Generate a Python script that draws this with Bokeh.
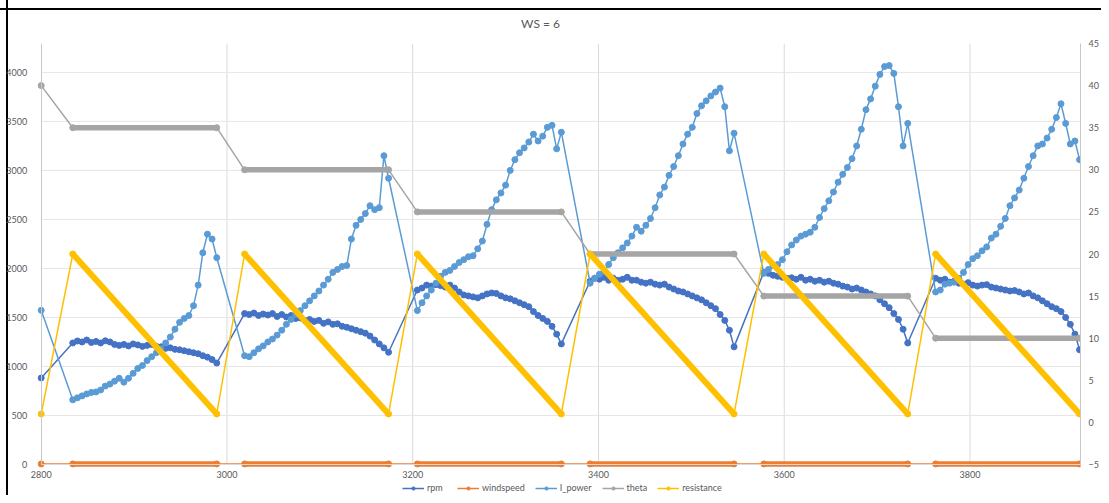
from bokeh.plotting import figure
from bokeh.models import Range1d, LinearAxis, FixedTicker, Legend, LegendItem
from bokeh.embed import file_html
from bokeh.resources import INLINE

# ---------------- data ----------------
TITLE = "WS = 6"
SERIES = ["rpm", "windspeed", "I_power", "theta", "resistance"]
COLORS = ["#4472C4", "#ED7D31", "#5B9BD5", "#A5A5A5", "#FFC000"]

x_first = 2800
seg_start = [2834, 3019, 3205, 3391, 3578, 3763]
STEP = 5

rpm_first = 883
rpm_segments = [
    [1240, 1260, 1250, 1270, 1245, 1255, 1240, 1262, 1250, 1225, 1215, 1225, 1210, 1230, 1220, 1205,
     1215, 1225, 1205, 1200, 1185, 1190, 1175, 1170, 1160, 1150, 1140, 1130, 1110, 1095, 1070, 1035],
    [1540, 1530, 1545, 1520, 1535, 1525, 1540, 1510, 1530, 1505, 1520, 1490, 1495, 1470, 1480, 1460,
     1470, 1440, 1455, 1430, 1435, 1410, 1400, 1385, 1370, 1355, 1340, 1310, 1270, 1230, 1190, 1145],
    [1780, 1800, 1830, 1820, 1835, 1825, 1810, 1830, 1800, 1760, 1730, 1720, 1710, 1700, 1720, 1740,
     1750, 1745, 1720, 1700, 1690, 1670, 1650, 1630, 1610, 1560, 1520, 1490, 1460, 1410, 1330, 1230],
    [1870, 1900, 1890, 1910, 1880, 1900, 1880, 1890, 1910, 1880, 1880, 1860, 1850, 1860, 1840, 1830,
     1840, 1810, 1790, 1770, 1760, 1740, 1720, 1700, 1680, 1650, 1620, 1590, 1530, 1470, 1370, 1200],
    [1960, 1950, 1930, 1920, 1910, 1900, 1905, 1890, 1910, 1880, 1890, 1870, 1880, 1860, 1870, 1850,
     1840, 1820, 1810, 1790, 1800, 1780, 1760, 1740, 1720, 1680, 1640, 1600, 1540, 1480, 1380, 1240],
    [1900, 1880, 1890, 1860, 1870, 1850, 1840, 1855, 1830, 1820, 1830, 1835, 1810, 1800, 1790, 1780,
     1770, 1775, 1760, 1740, 1750, 1720, 1700, 1670, 1640, 1610, 1590, 1560, 1500, 1430, 1330, 1170],
]

ipower_first = 1573
ipower_segments = [
    [660, 680, 700, 720, 735, 740, 760, 800, 820, 850, 880, 840, 880, 930, 980, 1010,
     1060, 1100, 1140, 1180, 1240, 1300, 1380, 1450, 1490, 1520, 1620, 1830, 2160, 2350, 2300, 2110],
    [1110, 1100, 1140, 1180, 1210, 1250, 1280, 1320, 1370, 1430, 1480, 1530, 1570, 1620, 1670, 1720,
     1770, 1830, 1890, 1960, 1990, 2020, 2030, 2300, 2440, 2500, 2560, 2640, 2600, 2620, 3150, 2920],
    [1570, 1650, 1720, 1780, 1850, 1920, 1960, 1980, 2020, 2060, 2090, 2120, 2130, 2200, 2280, 2450,
     2600, 2700, 2770, 2850, 3000, 3110, 3180, 3230, 3290, 3370, 3300, 3350, 3440, 3460, 3220, 3390],
    [1850, 1900, 1940, 1970, 2040, 2110, 2160, 2210, 2260, 2330, 2420, 2380, 2440, 2510, 2620, 2750,
     2830, 2950, 3040, 3150, 3270, 3370, 3440, 3580, 3660, 3710, 3760, 3800, 3840, 3650, 3200, 3380],
    [1950, 1990, 2030, 2040, 2090, 2170, 2240, 2290, 2330, 2350, 2370, 2420, 2520, 2610, 2690, 2780,
     2880, 2960, 3030, 3120, 3250, 3420, 3620, 3730, 3860, 3980, 4060, 4070, 3990, 3650, 3250, 3480],
    [1760, 1780, 1840, 1850, 1860, 1900, 1960, 2040, 2100, 2130, 2180, 2220, 2310, 2350, 2430, 2510,
     2640, 2720, 2800, 2920, 3040, 3150, 3250, 3270, 3330, 3420, 3540, 3680, 3480, 3270, 3300, 3110],
]

windspeed_value = 6
theta_first = 40
theta_levels = [35, 30, 25, 20, 15, 10]
res_first = 1
res_top = 20
res_bottom = 1

x_ticks = [2800, 3000, 3200, 3400, 3600, 3800]
left_ticks = [0, 500, 1000, 1500, 2000, 2500, 3000, 3500, 4000]
right_ticks = [-5, 0, 5, 10, 15, 20, 25, 30, 35, 40, 45]

X_MIN, X_MAX = 2800, 3919
LEFT_MIN, LEFT_MAX = 0, 4295
RIGHT_MIN, RIGHT_MAX = -5, 45

# ---------------- derived ----------------
def seg_x(start, n):
    return [start + STEP * k for k in range(n)]

seg_end = [s + STEP * (len(v) - 1) for s, v in zip(seg_start, rpm_segments)]

rpm_x = [x_first]
rpm_y = [rpm_first]
ipw_x = [x_first]
ipw_y = [ipower_first]
for s, r, w in zip(seg_start, rpm_segments, ipower_segments):
    rpm_x += seg_x(s, len(r)); rpm_y += r
    ipw_x += seg_x(s, len(w)); ipw_y += w

key_x = [x_first]
theta_y = [theta_first]
res_y = [res_first]
wind_y = [windspeed_value]
band_x, theta_band, res_band, wind_band = [], [], [], []
for s, e, lvl in zip(seg_start, seg_end, theta_levels):
    key_x += [s, e]
    theta_y += [lvl, lvl]
    res_y += [res_top, res_bottom]
    wind_y += [windspeed_value, windspeed_value]
    band_x.append([s, e])
    theta_band.append([lvl, lvl])
    res_band.append([res_top, res_bottom])
    wind_band.append([windspeed_value, windspeed_value])

# ---------------- layout (pixels) ----------------
FONT = "Lato"
TXT = "#595959"
W, H = 1101, 495
TOP = 43            # frame top
AXIS_Y = 464        # bottom of the value area (x axis)
FRAME_LEFT = 0      # frame starts at the canvas edge so the y labels are not clipped
AXIS_X = 41         # pixel of the left value axis (x = 2800)
FRAME_RIGHT = 1088  # approx. right edge of the frame (right axis panel follows)

extra_px = H - AXIS_Y
axis_px = AXIS_Y - TOP
left_start = LEFT_MIN - extra_px * (LEFT_MAX - LEFT_MIN) / axis_px
right_start = RIGHT_MIN - extra_px * (RIGHT_MAX - RIGHT_MIN) / axis_px
lead_px = AXIS_X - FRAME_LEFT
span_px = FRAME_RIGHT - AXIS_X
x_start = X_MIN - lead_px * (X_MAX - X_MIN) / span_px

p = figure(width=W, height=H, x_range=Range1d(x_start, X_MAX), y_range=Range1d(left_start, LEFT_MAX),
           output_backend="svg", toolbar_location=None, title=TITLE,
           min_border_left=FRAME_LEFT, min_border_right=0, min_border_top=TOP, min_border_bottom=0)
p.extra_y_ranges = {"right": Range1d(right_start, RIGHT_MAX)}

# thin black edges (top and left) of the original screenshot frame, drawn as page background
p.border_fill_alpha = 0
p.background_fill_alpha = 0
p.styles = {
    "background-color": "white",
    "background-image": "linear-gradient(#000, #000), linear-gradient(#000, #000)",
    "background-size": "100% 2px, 2px 100%",
    "background-position": "0 8px, 6px 0",
    "background-repeat": "no-repeat",
}

p.title.align = "center"
p.title.text_font = FONT
p.title.text_font_size = "12px"
p.title.text_font_style = "normal"
p.title.text_color = TXT
p.title.standoff = 26

p.outline_line_color = None

right_axis = LinearAxis(y_range_name="right")
p.add_layout(right_axis, "right")

p.xaxis.ticker = FixedTicker(ticks=x_ticks)
p.xaxis.fixed_location = 0
p.xaxis.bounds = (X_MIN, X_MAX)
p.yaxis[0].ticker = FixedTicker(ticks=left_ticks)
p.yaxis[0].fixed_location = X_MIN
p.yaxis[0].bounds = (LEFT_MIN, LEFT_MAX)
right_axis.ticker = FixedTicker(ticks=right_ticks)
right_axis.bounds = (RIGHT_MIN, RIGHT_MAX)

for ax in p.axis:
    ax.major_tick_line_color = None
    ax.minor_tick_line_color = None
    ax.major_label_text_font = FONT
    ax.major_label_text_font_size = "9px"
    ax.major_label_text_color = TXT
    ax.axis_line_color = "#C8C8C8"
    ax.major_label_standoff = 8
p.xaxis.axis_line_color = "#D9D9D9"
p.xaxis.major_label_standoff = 0
right_axis.major_label_standoff = 2

# grid lines only over the value area (from the tick lists)
p.xgrid.visible = False
p.ygrid.visible = False
p.segment(x0=x_ticks[1:], y0=[LEFT_MIN] * (len(x_ticks) - 1), x1=x_ticks[1:],
          y1=[LEFT_MAX] * (len(x_ticks) - 1), line_color="#DADADA", line_width=1, level="underlay")
p.segment(x0=[X_MIN] * (len(left_ticks) - 1), y0=left_ticks[1:], x1=[X_MAX] * (len(left_ticks) - 1),
          y1=left_ticks[1:], line_color="#E6E6E6", line_width=1, level="underlay")

c_rpm, c_wind, c_ipw, c_theta, c_res = COLORS
items = []
MS = 6

# rpm
l = p.line(rpm_x, rpm_y, line_color=c_rpm, line_width=1.5)
m = p.scatter(rpm_x, rpm_y, marker="circle", size=MS, fill_color=c_rpm, line_color=c_rpm)
items.append(LegendItem(label=SERIES[0], renderers=[l, m]))

# windspeed
l = p.line(key_x, wind_y, line_color=c_wind, line_width=1.5)
p.multi_line(band_x, wind_band, line_color=c_wind, line_width=5.5)
m = p.scatter(key_x, wind_y, marker="circle", size=MS, fill_color=c_wind, line_color=c_wind)
items.append(LegendItem(label=SERIES[1], renderers=[l, m]))

# I_power
l = p.line(ipw_x, ipw_y, line_color=c_ipw, line_width=1.5)
m = p.scatter(ipw_x, ipw_y, marker="circle", size=MS, fill_color=c_ipw, line_color=c_ipw)
items.append(LegendItem(label=SERIES[2], renderers=[l, m]))

# theta (right axis)
l = p.line(key_x, theta_y, line_color=c_theta, line_width=1.5, y_range_name="right")
p.multi_line(band_x, theta_band, line_color=c_theta, line_width=5.5, y_range_name="right")
m = p.scatter(key_x, theta_y, marker="circle", size=MS, fill_color=c_theta, line_color=c_theta,
              y_range_name="right")
items.append(LegendItem(label=SERIES[3], renderers=[l, m]))

# resistance (right axis)
l = p.line(key_x, res_y, line_color=c_res, line_width=1.5, y_range_name="right")
p.multi_line(band_x, res_band, line_color=c_res, line_width=6, y_range_name="right")
m = p.scatter(key_x, res_y, marker="circle", size=MS, fill_color=c_res, line_color=c_res,
              y_range_name="right")
items.append(LegendItem(label=SERIES[4], renderers=[l, m]))

legend = Legend(items=items, orientation="horizontal", location=(402 - FRAME_LEFT, 2))
legend.border_line_color = None
legend.background_fill_alpha = 0
legend.label_text_font = FONT
legend.label_text_font_size = "9px"
legend.label_text_color = TXT
legend.glyph_width = 22
legend.glyph_height = 8
legend.label_height = 8
legend.label_standoff = 3
legend.spacing = 10
legend.padding = 2
legend.margin = 0
p.add_layout(legend, "center")

open("out.html", "w").write(file_html(p, INLINE, title=TITLE))
